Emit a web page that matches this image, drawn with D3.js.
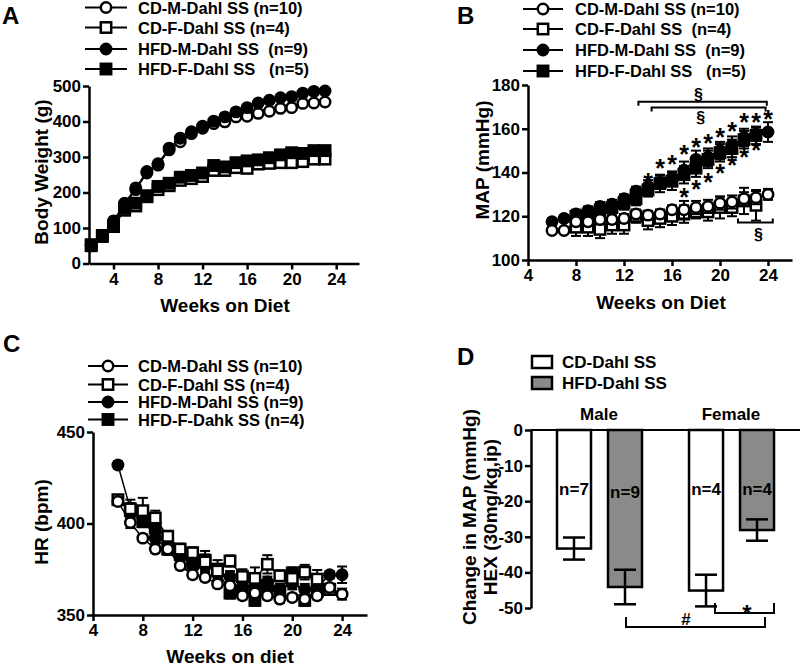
<!DOCTYPE html>
<html>
<head>
<meta charset="utf-8">
<script src="https://cdn.jsdelivr.net/npm/d3@7"></script>
<style>
  body { margin: 0; background: #fff; }
  svg { display: block; font-family: "Liberation Sans", Arial, sans-serif; font-weight: bold; }
  text { white-space: pre; }
</style>
</head>
<body>
<svg id="fig" width="800" height="666"></svg>
<script>
// ---- panel A : body weight (g) ----
const weeksA = [2, 3, 4, 5, 6, 7, 8, 9, 10, 11, 12, 13, 14, 15, 16, 17, 18, 19, 20, 21, 22, 23];
const bwCDM  = [50, 76, 115, 165, 208, 255, 277, 320, 343, 366, 381, 394, 399, 413, 415, 423, 429, 437, 439, 451, 452, 455];
const bwCDF  = [50, 76, 104, 150, 162, 188, 208, 219, 234, 239, 245, 262, 262, 270, 268, 280, 282, 284, 284, 287, 294, 294];
const bwHFDM = [52, 78, 120, 170, 213, 259, 281, 325, 353, 371, 387, 401, 413, 427, 439, 452, 460, 467, 470, 480, 485, 486];
const bwHFDF = [53, 79, 106, 156, 170, 191, 217, 226, 243, 248, 255, 276, 272, 284, 289, 292, 298, 306, 312, 310, 318, 318];
const bwTicks = [0, 100, 200, 300, 400, 500];
const weekTicks = [4, 8, 12, 16, 20, 24];

// ---- panel B : MAP (mmHg) ----
const weeksB  = [6, 7, 8, 9, 10, 11, 12, 13, 14, 15, 16, 17, 18, 19, 20, 21, 22, 23, 24];
const weeksBF = [8, 9, 10, 11, 12, 13, 14, 15, 16, 17, 18, 19, 20, 21, 22, 23];
const mapCDM     = [113.5, 113.5, 117.5, 117.5, 118.5, 118.5, 119, 121, 120.5, 121, 123, 123, 124, 124.5, 126, 126.5, 128, 128.5, 130];
const mapCDMerr  = [1, 1, 2, 2, 2, 2, 2, 2, 2, 2, 2, 4, 3, 3, 3, 3, 3, 3, 2.5];
const mapCDF     = [115, 115, 114, 116, 116, 120, 118, 119, 120, 121, 122, 122, 124, 124, 127, 125];
const mapCDFerr  = [4, 4, 4, 4, 4, 3, 4, 4, 4, 4, 3, 4, 5, 4, 6, 7];
const mapHFDM    = [117.5, 119, 121, 122.5, 124.5, 125.5, 128, 131.5, 133.5, 135.5, 137.5, 141, 146, 147, 150, 152.5, 156, 157.5, 158.5];
const mapHFDMerr = [1.5, 1.5, 2, 2, 2, 2, 2, 2, 3, 3, 3, 4, 4, 4, 4, 4, 4, 3, 4.5];
const mapHFDF    = [120, 121, 122, 124, 126, 128, 132, 135, 136, 139, 142, 146, 149, 151, 155, 157];
const mapHFDFerr = [2, 2, 2, 2, 3, 3, 3, 4, 4, 4, 4, 4, 4, 4, 4, 4];
const mapTicks = [100, 120, 140, 160, 180];
const starHiWeeks = [14, 15, 16, 17, 18, 19, 20, 21, 22, 23, 24];
const starHiVals  = [138, 144.4, 146.2, 150.8, 154.1, 155.6, 158.6, 161.4, 165.2, 165.2, 166.7];
const starLoWeeks = [17, 18, 19, 20, 21, 22, 23];
const starLoVals  = [131.1, 134.9, 137.9, 142, 145.9, 149.3, 152.5];
// significance brackets: [from week, to week, level, tick direction]
const sigB = [[13.2, 23.9, 172.3, 1], [14.3, 23.8, 169.7, 1], [21.5, 24.4, 117.1, -1]];
const sectB = [[18.2, 175.8], [18.4, 165.3], [23.2, 112]];

// ---- panel C : HR (bpm) ----
const weeksC   = [6, 7, 8, 9, 10, 11, 12, 13, 14, 15, 16, 17, 18, 19, 20, 21, 22, 23, 24];
const weeksCF  = [6, 7, 8, 9, 10, 11, 12, 13, 14, 15, 16, 17, 18, 19, 20, 21, 22, 23];
const weeksCHF = [7, 8, 9, 10, 11, 12, 13, 14, 15, 16, 17, 18, 19, 20, 21, 22, 23];
const hrCDM     = [412, 400.5, 392, 386, 386, 377, 372, 370.5, 367, 366, 360.5, 362, 360.5, 358.7, 359.6, 358.7, 360.5, 365, 361.4];
const hrCDMerr  = [2, 3, 2, 2, 2, 2, 2, 2, 2, 2, 2, 2, 2, 2, 2, 2, 2, 2, 3];
const hrCDF     = [413, 408, 407, 403, 393, 386, 384, 379, 374, 379.5, 371, 370, 377.7, 371.4, 370, 373.4, 369.6, 364];
const hrCDFerr  = [2, 5, 7, 4, 3, 3, 3, 6, 6, 3, 4, 6, 5, 3, 4, 4, 5, 3];
const hrHFDM    = [432, 408, 403, 392, 386, 382, 378, 377, 373, 371, 366, 365, 368, 364, 367, 364, 365, 372, 372];
const hrHFDMerr = [2, 3, 3, 3, 3, 3, 3, 3, 3, 3, 3, 3, 3, 3, 3, 3, 3, 2, 4.5];
const hrHFDF    = [407, 401, 397.5, 386, 383, 378, 380, 375, 362, 363, 358, 366, 363, 373, 358, 363, 364];
const hrHFDFerr = [4, 3, 3, 3, 3, 3, 3, 3, 3, 3, 3, 3, 3, 3, 3, 3, 3];
const hrTicks = [350, 400, 450];

// ---- panel D : change in MAP after hexamethonium ----
const sexD = ["Male", "Female"];
const dietD = ["CD", "HFD"];
const hexCD = [-33.3, -45.1];
const hexCDerr = [3.1, 4.45];
const hexHFD = [-44.1, -28.1];
const hexHFDerr = [4.85, 3];
const hexN = [["n=7", "n=9"], ["n=4", "n=4"]];
const hexTicks = [0, -10, -20, -30, -40, -50];

const legendLinesA = ["CD-M-Dahl SS (n=10)", "CD-F-Dahl SS (n=4)", "HFD-M-Dahl SS  (n=9)", "HFD-F-Dahl SS   (n=5)"];
const legendLinesB = ["CD-M-Dahl SS (n=10)", "CD-F-Dahl SS  (n=4)", "HFD-M-Dahl SS  (n=9)", "HFD-F-Dahl SS   (n=5)"];
const legendLinesC = ["CD-M-Dahl SS (n=10)", "CD-F-Dahl SS (n=4)", "HFD-M-Dahl SS (n=9)", "HFD-F-Dahk SS (n=4)"];
const legendD = ["CD-Dahl SS", "HFD-Dahl SS"];

const svg = d3.select("#fig");
const LW = 2.5;

function marker(g, shape, filled, cx, cy) {
  if (shape === "circle") {
    g.append("circle").attr("cx", cx).attr("cy", cy).attr("r", 5.2)
      .attr("fill", filled ? "#000" : "#fff").attr("stroke", "#000").attr("stroke-width", LW);
  } else {
    g.append("rect").attr("x", cx - 5.2).attr("y", cy - 5.2).attr("width", 10.4).attr("height", 10.4)
      .attr("fill", filled ? "#000" : "#fff").attr("stroke", "#000").attr("stroke-width", LW);
  }
}

function drawSeries(g, x, y, s) {
  const pts = s.weeks.map((w, i) => ({ w: w, v: s.vals[i], e: s.errs ? s.errs[i] : 0 }));
  const sg = g.append("g");
  sg.append("path").datum(pts)
    .attr("fill", "none").attr("stroke", "#000").attr("stroke-width", 1.5)
    .attr("d", d3.line().x(d => x(d.w)).y(d => y(d.v)));
  pts.filter(d => d.e > 0).forEach(d => {
    const cx = x(d.w), y0 = y(d.v - d.e), y1 = y(d.v + d.e);
    sg.append("line").attr("x1", cx).attr("x2", cx).attr("y1", y0).attr("y2", y1)
      .attr("stroke", "#000").attr("stroke-width", 2);
    [y0, y1].forEach(yy => sg.append("line").attr("x1", cx - 5).attr("x2", cx + 5)
      .attr("y1", yy).attr("y2", yy).attr("stroke", "#000").attr("stroke-width", 2));
  });
  pts.forEach(d => marker(sg, s.shape, s.filled, x(d.w), y(d.v)));
}

function styleAxis(a) {
  a.select(".domain").attr("stroke-width", LW);
  a.selectAll(".tick line").attr("stroke-width", LW);
  a.selectAll("text").attr("font-size", 17).attr("font-weight", "bold")
    .attr("font-family", "Liberation Sans, Arial, sans-serif").attr("fill", "#000");
}

function axes(g, x, y, xt, yt, ox, oy) {
  const ax = g.append("g").attr("transform", `translate(0,${oy})`)
    .call(d3.axisBottom(x).tickValues(xt).tickSize(6).tickSizeOuter(0).tickPadding(3).tickFormat(d3.format("d")));
  styleAxis(ax);
  const ay = g.append("g").attr("transform", `translate(${ox},0)`)
    .call(d3.axisLeft(y).tickValues(yt).tickSize(6).tickSizeOuter(0).tickPadding(2).tickFormat(d3.format("d")));
  styleAxis(ay);
}

function legend(g, x0, x1, xt, rows, labels, kinds) {
  labels.forEach((lab, i) => {
    g.append("line").attr("x1", x0).attr("x2", x1).attr("y1", rows[i]).attr("y2", rows[i])
      .attr("stroke", "#000").attr("stroke-width", 2);
    marker(g, kinds[i][0], kinds[i][1], (x0 + x1) / 2, rows[i]);
    g.append("text").attr("x", xt).attr("y", rows[i] + 6).attr("font-size", 16.5).text(lab);
  });
}

function vTitle(g, txt, x, y) {
  g.append("text").attr("transform", `translate(${x},${y}) rotate(-90)`)
    .attr("text-anchor", "middle").attr("font-size", 19).text(txt);
}
function hTitle(g, txt, x, y) {
  g.append("text").attr("x", x).attr("y", y).attr("text-anchor", "middle").attr("font-size", 19).text(txt);
}
function panelLetter(g, txt, x, y) {
  g.append("text").attr("x", x).attr("y", y).attr("font-size", 24).text(txt);
}

const kinds = [["circle", false], ["square", false], ["circle", true], ["square", true]];

// ---------- A ----------
{
  const g = svg.append("g");
  const x = d3.scaleLinear().domain([1.8, 26.05]).range([89, 359]);
  const y = d3.scaleLinear().domain([0, 500]).range([263.5, 86]);
  axes(g, x, y, weekTicks, bwTicks, 89, 263.5);
  drawSeries(g, x, y, { weeks: weeksA, vals: bwCDM, shape: "circle", filled: false });
  drawSeries(g, x, y, { weeks: weeksA, vals: bwCDF, shape: "square", filled: false });
  drawSeries(g, x, y, { weeks: weeksA, vals: bwHFDM, shape: "circle", filled: true });
  drawSeries(g, x, y, { weeks: weeksA, vals: bwHFDF, shape: "square", filled: true });
  legend(g, 85, 127, 138, [7.5, 27.5, 49, 69], legendLinesA, kinds);
  vTitle(g, "Body Weight (g)", 48, 172);
  hTitle(g, "Weeks on Diet", 225, 312);
  panelLetter(g, "A", 2, 23.5);
}

// ---------- B ----------
{
  const g = svg.append("g");
  const x = d3.scaleLinear().domain([4, 26]).range([528, 792]);
  const y = d3.scaleLinear().domain([100, 180]).range([260, 85]);
  axes(g, x, y, weekTicks, mapTicks, 528, 260);
  drawSeries(g, x, y, { weeks: weeksB, vals: mapHFDM, errs: mapHFDMerr, shape: "circle", filled: true });
  drawSeries(g, x, y, { weeks: weeksBF, vals: mapHFDF, errs: mapHFDFerr, shape: "square", filled: true });
  drawSeries(g, x, y, { weeks: weeksBF, vals: mapCDF, errs: mapCDFerr, shape: "square", filled: false });
  drawSeries(g, x, y, { weeks: weeksB, vals: mapCDM, errs: mapCDMerr, shape: "circle", filled: false });
  // asterisks
  const stars = starHiWeeks.map((w, i) => [w, starHiVals[i]]).concat(starLoWeeks.map((w, i) => [w, starLoVals[i]]));
  g.selectAll(null).data(stars).enter().append("text")
    .attr("x", d => x(d[0])).attr("y", d => y(d[1]) + 14)
    .attr("text-anchor", "middle").attr("font-size", 25).text("*");
  // brackets
  sigB.forEach(b => {
    const yy = y(b[2]);
    g.append("path").attr("fill", "none").attr("stroke", "#000").attr("stroke-width", 2)
      .attr("d", `M${x(b[0])},${yy + 4 * b[3]}V${yy}H${x(b[1])}V${yy + 4 * b[3]}`);
  });
  g.selectAll(null).data(sectB).enter().append("text")
    .attr("x", d => x(d[0])).attr("y", d => y(d[1]) + 6)
    .attr("text-anchor", "middle").attr("font-size", 16).text("§");
  legend(g, 523, 563, 575, [9, 29, 50, 71], legendLinesB, kinds);
  vTitle(g, "MAP (mmHg)", 489, 160);
  hTitle(g, "Weeks on Diet", 661, 309);
  panelLetter(g, "B", 457, 23.5);
}

// ---------- C ----------
{
  const g = svg.append("g");
  const x = d3.scaleLinear().domain([4, 26]).range([93, 367]);
  const y = d3.scaleLinear().domain([350, 450]).range([615, 432]);
  axes(g, x, y, weekTicks, hrTicks, 93, 615);
  drawSeries(g, x, y, { weeks: weeksC, vals: hrHFDM, errs: hrHFDMerr, shape: "circle", filled: true });
  drawSeries(g, x, y, { weeks: weeksCHF, vals: hrHFDF, errs: hrHFDFerr, shape: "square", filled: true });
  drawSeries(g, x, y, { weeks: weeksCF, vals: hrCDF, errs: hrCDFerr, shape: "square", filled: false });
  drawSeries(g, x, y, { weeks: weeksC, vals: hrCDM, errs: hrCDMerr, shape: "circle", filled: false });
  legend(g, 88, 128, 138, [366, 384.5, 402, 419.5], legendLinesC, kinds);
  vTitle(g, "HR (bpm)", 48, 522);
  hTitle(g, "Weeks on diet", 230, 663);
  panelLetter(g, "C", 3, 352);
}

// ---------- D ----------
{
  const g = svg.append("g");
  const x0 = d3.scaleBand().domain(sexD).range([557, 773]).paddingInner(0.364);
  const x1 = d3.scaleBand().domain(dietD).range([0, 85]).paddingInner(1 / 3);
  const y = d3.scaleLinear().domain([-50, 0]).range([608, 430]);
  const ay = g.append("g").attr("transform", "translate(531,0)")
    .call(d3.axisLeft(y).tickValues(hexTicks).tickSize(6).tickSizeOuter(0).tickPadding(2));
  styleAxis(ay);
  ay.selectAll("text").text(d => String(d));
  g.append("line").attr("x1", 531).attr("x2", 800).attr("y1", y(0)).attr("y2", y(0))
    .attr("stroke", "#000").attr("stroke-width", 2);
  const means = { CD: hexCD, HFD: hexHFD }, errs = { CD: hexCDerr, HFD: hexHFDerr };
  sexD.forEach((s, si) => {
    dietD.forEach((d, di) => {
      const bx = x0(s) + x1(d), bw = x1.bandwidth(), v = means[d][si], e = errs[d][si];
      g.append("rect").attr("x", bx).attr("y", y(0)).attr("width", bw).attr("height", y(v) - y(0))
        .attr("fill", d === "CD" ? "#fff" : "#8a8a8a").attr("stroke", "#000").attr("stroke-width", LW);
      const cx = bx + bw / 2;
      g.append("line").attr("x1", cx).attr("x2", cx).attr("y1", y(v - e)).attr("y2", y(v + e))
        .attr("stroke", "#000").attr("stroke-width", 2.5);
      [v - e, v + e].forEach(val => g.append("line").attr("x1", cx - 11).attr("x2", cx + 11)
        .attr("y1", y(val)).attr("y2", y(val)).attr("stroke", "#000").attr("stroke-width", 2.5));
      g.append("text").attr("x", cx).attr("y", di === 1 && si === 0 ? 498 : 495)
        .attr("text-anchor", "middle").attr("font-size", 17).text(hexN[si][di]);
    });
    g.append("text").attr("x", x0(s) + x0.bandwidth() / 2).attr("y", 420)
      .attr("text-anchor", "middle").attr("font-size", 17).text(s);
  });
  // significance brackets
  g.append("path").attr("fill", "none").attr("stroke", "#000").attr("stroke-width", 2)
    .attr("d", "M626,617V627H765V617");
  g.append("text").attr("x", 686).attr("y", 625).attr("text-anchor", "middle").attr("font-size", 17).text("#");
  g.append("path").attr("fill", "none").attr("stroke", "#000").attr("stroke-width", 2)
    .attr("d", "M715,603V613H774V603");
  g.append("text").attr("x", 747).attr("y", 622).attr("text-anchor", "middle").attr("font-size", 24).text("*");
  // legend
  legendD.forEach((lab, i) => {
    g.append("rect").attr("x", 532).attr("y", 356 + i * 21).attr("width", 20).attr("height", 12)
      .attr("fill", i === 0 ? "#fff" : "#8a8a8a").attr("stroke", "#000").attr("stroke-width", LW);
    g.append("text").attr("x", 562).attr("y", 368 + i * 21).attr("font-size", 17).text(lab);
  });
  vTitle(g, "Change in MAP (mmHg)", 476, 517);
  vTitle(g, "HEX (30mg/kg,ip)", 497, 517);
  panelLetter(g, "D", 457, 365);
}
</script>
</body>
</html>
